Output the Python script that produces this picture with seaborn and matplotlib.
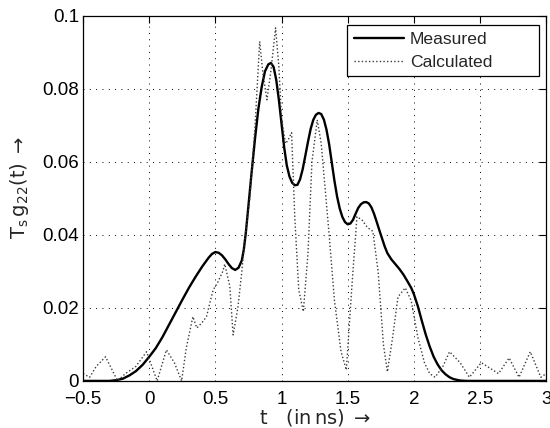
import numpy as np
import pandas as pd
import matplotlib
matplotlib.use("Agg")
import matplotlib.pyplot as plt
import matplotlib.patches as mpatches
import seaborn as sns

# ---- data ----
meas_t = [-0.50, -0.40, -0.30, -0.25, -0.20, -0.15, -0.10, -0.05, 0.00, 0.05,
          0.10, 0.15, 0.20, 0.25, 0.30, 0.35, 0.40, 0.45, 0.475, 0.50,
          0.525, 0.55, 0.575, 0.60, 0.625, 0.65, 0.675, 0.70, 0.715, 0.73,
          0.75, 0.775, 0.80, 0.825, 0.85, 0.875, 0.90, 0.92, 0.94, 0.96,
          0.98, 1.00, 1.02, 1.04, 1.06, 1.08, 1.10, 1.12, 1.14, 1.16,
          1.18, 1.20, 1.22, 1.24, 1.26, 1.28, 1.30, 1.32, 1.34, 1.36,
          1.38, 1.40, 1.42, 1.44, 1.46, 1.48, 1.50, 1.52, 1.54, 1.56,
          1.58, 1.60, 1.62, 1.64, 1.66, 1.68, 1.70, 1.72, 1.74, 1.76,
          1.78, 1.80, 1.83, 1.86, 1.89, 1.92, 1.95, 1.98, 2.00, 2.03,
          2.06, 2.09, 2.12, 2.15, 2.18, 2.21, 2.24, 2.27, 2.30, 2.35,
          2.40, 2.50, 3.00]
meas_v = [0.0, 0.0, 0.0, 0.0002, 0.0006, 0.0015, 0.0027, 0.0044, 0.0066, 0.0090,
          0.0120, 0.0154, 0.0188, 0.0222, 0.0255, 0.0285, 0.0313, 0.0338, 0.0348, 0.0353,
          0.0351, 0.0344, 0.0333, 0.0320, 0.0309, 0.0304, 0.0310, 0.0330, 0.0360, 0.0405,
          0.0480, 0.0575, 0.0665, 0.0745, 0.0805, 0.0848, 0.0867, 0.0871, 0.0860, 0.0825,
          0.0770, 0.0705, 0.0640, 0.0590, 0.0560, 0.0543, 0.0536, 0.0537, 0.0552, 0.0580,
          0.0617, 0.0655, 0.0690, 0.0715, 0.0729, 0.0734, 0.0731, 0.0716, 0.0688, 0.0648,
          0.0598, 0.0548, 0.0505, 0.0472, 0.0449, 0.0435, 0.0429, 0.0431, 0.0441, 0.0458,
          0.0474, 0.0484, 0.0489, 0.0490, 0.0486, 0.0475, 0.0457, 0.0435, 0.0412, 0.0390,
          0.0368, 0.0350, 0.0333, 0.0320, 0.0307, 0.0292, 0.0274, 0.0255, 0.0238, 0.0205,
          0.0165, 0.0127, 0.0094, 0.0066, 0.0045, 0.0029, 0.0018, 0.0010, 0.0005, 0.0001,
          0.0, 0.0, 0.0]

calc_t = [-0.50, -0.45, -0.40, -0.33, -0.28, -0.24, -0.18, -0.10, -0.02, 0.03,
          0.06, 0.13, 0.19, 0.245, 0.28, 0.33, 0.36, 0.40, 0.433, 0.458,
          0.483, 0.518, 0.556, 0.571, 0.609, 0.634, 0.67, 0.70, 0.72, 0.76,
          0.80, 0.835, 0.86, 0.89, 0.92, 0.955, 0.98, 1.00, 1.03, 1.05,
          1.076, 1.10, 1.13, 1.165, 1.20, 1.23, 1.27, 1.30, 1.36, 1.40,
          1.45, 1.49, 1.53, 1.57, 1.61, 1.65, 1.69, 1.73, 1.77, 1.80,
          1.84, 1.88, 1.935, 1.98, 2.03, 2.08, 2.12, 2.16, 2.22, 2.27,
          2.35, 2.42, 2.51, 2.64, 2.72, 2.795, 2.88, 2.96, 3.00]
calc_v = [0.002, 0.001, 0.004, 0.0066, 0.003, 0.0, 0.002, 0.004, 0.008, 0.003,
          0.0, 0.0085, 0.005, 0.0, 0.009, 0.0176, 0.0145, 0.0160, 0.0176, 0.0213,
          0.0249, 0.0270, 0.0300, 0.0320, 0.0260, 0.0126, 0.0200, 0.0300, 0.0380, 0.0500,
          0.0700, 0.0930, 0.0840, 0.0770, 0.0850, 0.0967, 0.0860, 0.0720, 0.0650, 0.0660,
          0.0680, 0.0450, 0.0250, 0.0190, 0.0350, 0.0600, 0.0715, 0.0650, 0.0400, 0.0220,
          0.0080, 0.0030, 0.0250, 0.0450, 0.0440, 0.0420, 0.0410, 0.0300, 0.0100, 0.0025,
          0.0120, 0.0230, 0.0255, 0.0220, 0.0120, 0.0050, 0.0020, 0.0010, 0.0040, 0.0080,
          0.0050, 0.0010, 0.0050, 0.0020, 0.0063, 0.0010, 0.0080, 0.0010, 0.0020]

x_ticks = [-0.5, 0, 0.5, 1, 1.5, 2, 2.5, 3]
x_tick_labels = ["\u22120.5", "0", "0.5", "1", "1.5", "2", "2.5", "3"]
y_ticks = [0, 0.02, 0.04, 0.06, 0.08, 0.1]
y_tick_labels = ["0", "0.02", "0.04", "0.06", "0.08", "0.1"]

meas_df = pd.DataFrame({"t": meas_t, "v": meas_v})
calc_df = pd.DataFrame({"t": calc_t, "v": calc_v})

sns.set_style("white")
plt.rcParams['font.family'] = ['Liberation Sans', 'DejaVu Sans']
plt.rcParams['mathtext.fontset'] = 'dejavusans'

fig = plt.figure(figsize=(5.5, 4.28), dpi=100)
ax = fig.add_axes([0.151, 0.110, 0.842, 0.853])

sns.lineplot(data=meas_df, x="t", y="v", color="black", linewidth=1.7,
             label="Measured", ax=ax)
sns.lineplot(data=calc_df, x="t", y="v", color="#3a3a3a", linewidth=1.0,
             linestyle=(0, (1, 1.6)), label="Calculated", ax=ax)

ax.set_xlim(-0.5, 3)
ax.set_ylim(0, 0.1)
ax.set_xticks(x_ticks)
ax.set_xticklabels(x_tick_labels)
ax.set_yticks(y_ticks)
ax.set_yticklabels(y_tick_labels)
ax.tick_params(direction="in", top=True, right=True, length=5, width=0.8,
               labelsize=13.5, colors="black")
ax.tick_params(axis="x", pad=7)
ax.tick_params(axis="y", pad=3)
for s in ax.spines.values():
    s.set_color("black")
    s.set_linewidth(0.9)
ax.grid(True, color="black", linestyle=(0, (1, 5.5)), linewidth=0.7)

ax.set_xlabel(r"$\mathrm{t}\quad\mathrm{(in\,ns)}\;\rightarrow$", fontsize=14)
ax.set_ylabel(r"$\mathrm{T_s\,g_{22}(t)}\;\rightarrow$", fontsize=14)
ax.yaxis.set_label_coords(-0.112, 0.53)
ax.xaxis.set_label_coords(0.5, -0.072)

# legend frame (MATLAB style, wide box)
box = mpatches.Rectangle((0.570, 0.836), 0.415, 0.140, transform=ax.transAxes,
                         facecolor="white", edgecolor="black", linewidth=0.9,
                         zorder=5)
ax.add_patch(box)
leg = ax.legend(loc="center left", bbox_to_anchor=(0.585, 0.903), fontsize=12.6,
                frameon=False, borderaxespad=0, borderpad=0,
                handlelength=2.85, handletextpad=0.35, labelspacing=0.45)
leg.set_zorder(6)

fig.savefig("out.png", dpi=100)
